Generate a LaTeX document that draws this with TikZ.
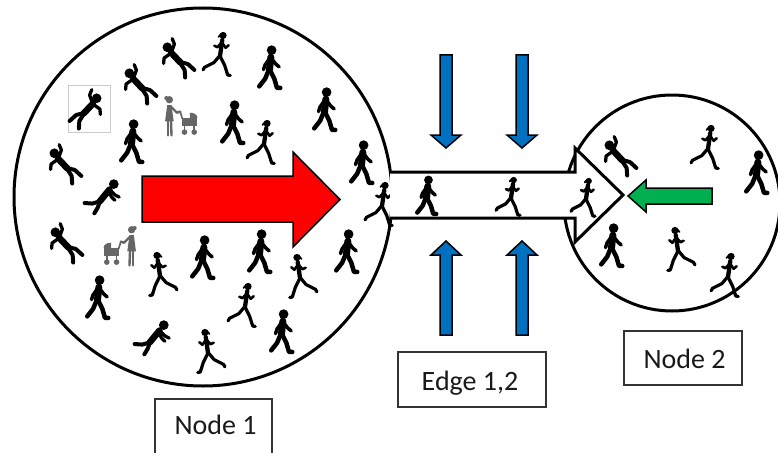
\documentclass[tikz,border=0pt]{standalone}
\usepackage{fontspec}
\setmainfont{Carlito}
\definecolor{flowred}{RGB}{255,0,0}
\definecolor{squeezeblue}{RGB}{0,112,192}
\definecolor{backgreen}{RGB}{0,176,80}
\begin{document}
\begin{tikzpicture}[x=1pt,y=-1pt,
  fig/.style={line cap=round,line join=round,scale=1.08},
  crowdcircle/.style={circle,draw,line width=3,minimum size=#1,inner sep=0},
  labelbox/.style={draw=black!80,line width=1.4,inner sep=0},
  labeltext/.style={font=\fontsize{28}{30}\selectfont,text=black!90,inner sep=0,anchor=base},
  blockoutline/.style={draw=black,line width=1.5,line join=miter},
  % pedestrian walking to the right, centred on the waist
  walker/.pic={
    \begin{scope}[fig]
    \fill (1.5,-16.5) circle (4.5);
    \draw[line width=7] (0.8,-10) -- (-0.5,2);
    \draw[line width=3.5] (1.2,-9) -- (5.5,-3.5) -- (8.5,-1);
    \draw[line width=3.5] (-0.2,-9) -- (-4.5,-3) -- (-6,1.5);
    \draw[line width=4.5] (-0.5,1) -- (4,10) -- (6.5,18.5) -- (9.5,18.5);
    \draw[line width=4.5] (-0.8,1) -- (-4.5,10) -- (-10,17);
    \end{scope}
  },
  % jogger running to the right, origin at the hip
  runner/.pic={
    \begin{scope}[fig,scale=0.95]
    \fill (3,-21) circle (3.5);
    \draw[line width=1.8] (1.2,-22.5) -- (-1.5,-19.5);
    \draw[line width=4.3] (2.2,-16.5) -- (0,-1);
    \draw[line width=2.6] (2,-14) -- (5.5,-9) -- (8.5,-11.5);
    \draw[line width=2.6] (1.5,-14) -- (-2.5,-9.5) -- (-5.5,-11);
    \draw[line width=3.2] (0,-1) -- (4.5,8) -- (7.5,17.5) -- (10,18);
    \draw[line width=3.2] (-0.5,-1) -- (-6,5.5) -- (-15,10) -- (-16.5,12.5);
    \end{scope}
  },
  % person falling backwards, head up-left
  faller/.pic={
    \begin{scope}[fig]
    \fill (-8,-9) circle (4.5);
    \draw[line width=6.5] (-4.5,-4) -- (4,5);
    \draw[line width=3.3] (-4,-5) -- (-1.5,-12) -- (-3.5,-17);
    \draw[line width=3.3] (-5.5,-3) -- (-11,1) -- (-11.5,6);
    \draw[line width=4] (3.5,4.5) -- (11,6.5) -- (17,12);
    \draw[line width=4] (3.5,5) -- (8,12) -- (8.5,19);
    \end{scope}
  },
  % person tripping forwards, head up-right
  tripper/.pic={
    \begin{scope}[fig]
    \fill (10,-11) circle (4.5);
    \draw[line width=6.5] (6,-6) -- (-3,5);
    \draw[line width=3.3] (7,-5) -- (11,-1) -- (15,1);
    \draw[line width=3.3] (5,-4) -- (8,1) -- (11,4);
    \draw[line width=4] (-3,5) -- (-10,7) -- (-17,6.5);
    \draw[line width=4] (-3,5.5) -- (-5,11) -- (-8,16);
    \end{scope}
  },
  % woman pushing a pram to the right
  pram/.pic={
    \begin{scope}[fig]
    \fill (-8,-16) circle (3.4);
    \fill (-10.8,-17.5) circle (1.9);
    \fill (-10,-11) -- (-6,-11) -- (-4,4) -- (-12,4) -- cycle;
    \draw[line width=2.4] (-6.5,-9.5) -- (-1,-4) -- (2,-5);
    \draw[line width=2.4] (-9.5,4) -- (-9.5,17);
    \draw[line width=2.4] (-6.5,4) -- (-6,17);
    \draw[line width=1.7] (2,-5) -- (4,1.5);
    \fill (4,1) rectangle (18,8);
    \fill (11,1) -- (11,-4) .. controls (15,-4) and (18,-2) .. (18,1) -- cycle;
    \draw[line width=1.6] (6,8) -- (6,13) (15,8) -- (15,13);
    \fill (6,14) circle (2.6);
    \fill (15,14) circle (2.6);
    \end{scope}
  }
]
\useasboundingbox (0,0) rectangle (778,452);

% the two crowd areas
\node[crowdcircle=378] (node1) at (203,197) {};
\node[crowdcircle=216] (node2) at (672,203) {};

% main flow inside node 1
\path[fill=flowred,blockoutline] (142,176) -- (293,176) -- (293,152) -- (340,199.5)
  -- (293,247) -- (293,222) -- (142,222) -- cycle;

% crowd of node 1
\pic at (176,57) {faller};
\pic at (220,57) {runner};
\pic at (270,68) {walker};
\pic at (138,83) {faller};
\draw[black!20,line width=1] (68,85) rectangle (110,132);
\pic at (88,108) [xscale=-1] {faller};
\pic[color=black!60] at (178,117) {pram};
\pic at (233,123) {walker};
\pic at (264,145) {runner};
\pic at (325,110) {walker};
\pic at (132,142) {walker};
\pic at (63,163) {faller};
\pic at (103,196) {tripper};
\pic at (362,163) {walker};
\pic at (382,207) {runner};
\pic at (64,242) {faller};
\pic[color=black!60,xscale=-1] at (123,247) {pram};
\pic[xscale=-1] at (160,277) {runner};
\pic at (203,258) {walker};
\pic at (260,252) {walker};
\pic[xscale=-1] at (300,279) {runner};
\pic at (347,252) {walker};
\pic at (98,298) {walker};
\pic at (245,308) {runner};
\pic at (153,337) {tripper};
\pic[xscale=-1] at (208,354) {runner};
\pic at (282,332) {walker};

% the edge between the nodes, a hollow block arrow
\fill[white] (390,172) -- (575,172) -- (575,148) -- (623,195) -- (575,242) -- (575,218) -- (390,218) -- cycle;
\draw[line width=3,line join=miter] (390,172) -- (575,172) -- (575,148) -- (623,195)
  -- (575,242) -- (575,218) -- (390,218);

% pedestrians on the edge
\pic[scale=0.9] at (427,196) {walker};
\pic[scale=0.88] at (511,199) {runner};
\pic[scale=0.88] at (586,200) {runner};

% pressure on the edge from both sides
\foreach \cx in {446,522}{
  \path[fill=squeezeblue,blockoutline] (\cx-6,55) -- (\cx+6,55) -- (\cx+6,135) -- (\cx+15,135)
    -- (\cx,148) -- (\cx-15,135) -- (\cx-6,135) -- cycle;
  \path[fill=squeezeblue,blockoutline] (\cx-6,335) -- (\cx+6,335) -- (\cx+6,255) -- (\cx+15,255)
    -- (\cx,241) -- (\cx-15,255) -- (\cx-6,255) -- cycle;
}

% counter flow inside node 2
\path[fill=backgreen,blockoutline] (712,188) -- (646,188) -- (646,180) -- (628,196)
  -- (646,212) -- (646,204) -- (712,204) -- cycle;

% crowd of node 2
\pic at (618,155) {faller};
\pic at (708,150) {runner};
\pic at (757,173) {walker};
\pic at (612,246) {walker};
\pic[xscale=-1] at (678,252) {runner};
\pic at (728,278) {runner};

% labels
\node[labelbox,minimum width=117,minimum height=62] (n1box) at (213.5,430) {};
\node[labeltext] (n1text) at (215.5,434) {Node 1};
\node[labelbox,minimum width=148,minimum height=55] (e12box) at (472,379.5) {};
\node[labeltext] (e12text) at (470,390) {Edge 1,2};
\node[labelbox,minimum width=118,minimum height=54] (n2box) at (683,358) {};
\node[labeltext] (n2text) at (684.5,368) {Node 2};
\end{tikzpicture}
\end{document}
